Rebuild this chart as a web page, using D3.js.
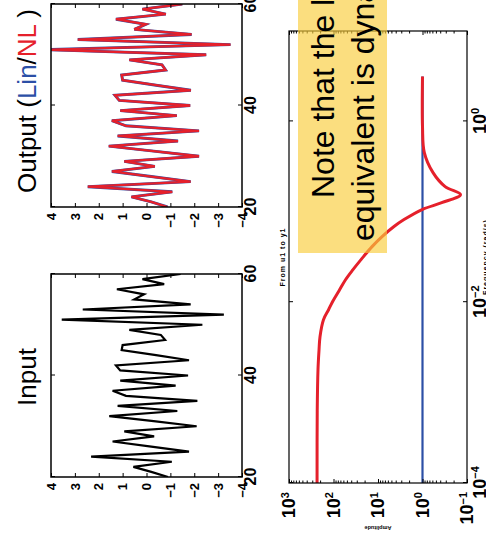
<!DOCTYPE html>
<html>
<head>
<meta charset="utf-8">
<script src="https://cdn.jsdelivr.net/npm/d3@7"></script>
<style>
  html, body { margin: 0; padding: 0; background: #fff; overflow: hidden; }
  svg { display: block; font-family: 'Liberation Sans', Arial, Helvetica, sans-serif; }
</style>
</head>
<body>
<div id="chart"></div>
<script>
// ---- time series panels (Input / Output) ----
const sampleIndex = [20, 21, 22, 23, 24, 25, 26, 27, 28, 29, 30, 31, 32, 33, 34, 35, 36, 37, 38, 39, 40,
                     41, 42, 43, 44, 45, 46, 47, 48, 49, 50, 51, 52, 53, 54, 55, 56, 57, 58, 59, 60];
const inputValues = [-0.90, -0.20, 0.55, -1.06, 2.32, -1.78, -0.20, 1.42, -0.32, 0.93, -2.10, -0.30, 1.56, -1.29,
                     1.21, -2.13, 0.86, 1.42, -1.22, 1.10, -1.74, 1.10, 1.28, -1.78, -0.40, 1.04, 1.00, -0.78,
                     -0.60, 0.72, -2.34, 3.55, -3.24, 2.67, -1.85, 0.51, 0.10, 1.24, -0.74, 0.17, -1.43];
const outputValues = [-0.88, -0.20, 0.63, -1.08, 2.46, -1.85, -0.20, 1.45, -0.35, 0.93, -2.20, -0.30, 1.58, -1.32,
                      1.21, -2.20, 0.86, 1.45, -1.27, 1.10, -1.83, 1.14, 1.32, -1.86, -0.40, 1.00, 1.04, -0.80,
                      -0.65, 0.72, -2.50, 4.20, -3.52, 2.88, -1.89, 0.51, 0.03, 1.28, -0.81, 0.17, -1.50];
const timeTicks = [20, 40, 60];
const valueTicks = [-4, -3, -2, -1, 0, 1, 2, 3, 4];

// ---- frequency response panel ----
const freqNL = [1e-4, 6.3e-4, 1.8e-3, 2.9e-3, 4.15e-3, 6.4e-3, 8.26e-3, 9.87e-3, 0.0134, 0.0177, 0.0229,
                0.0296, 0.0412, 0.0532, 0.0687, 0.082, 0.106, 0.126, 0.155, 0.19, 0.271, 0.452, 0.875, 3.14];
const ampNL = [234, 232, 223, 212, 201, 168, 129, 108, 75, 53.7, 36.5,
               24.1, 13.6, 8.1, 4.37, 2.6, 1.02, 0.37, 0.14, 0.31, 0.58, 0.91, 1.0, 1.0];
const freqLin = [1e-4, 3.14];
const ampLin = [1, 1];
const freqTicks = [1e-4, 1e-2, 1];
const ampTicks = [0.1, 1, 10, 100, 1000];

const red = '#e5202b';
const blue = '#2c4fa6';
const FONT = "'Liberation Sans', Arial, Helvetica, sans-serif";

// the figure is laid out landscape (541 x 486) and turned a quarter counter-clockwise
const W = 541;
const svg = d3.select('#chart').append('svg')
    .attr('width', 486)
    .attr('height', 541);
const fig = svg.append('g').attr('transform', `translate(0,${W}) rotate(-90)`);

function styleText(g, size, weight) {
    g.selectAll('text')
        .style('font-family', FONT)
        .style('font-size', size + 'px')
        .style('font-weight', weight)
        .attr('fill', '#000');
}

// draw one time-series panel
function drawSeries(id, left, lines) {
    const top = 51, bottom = 242, width = 203;
    const x = d3.scaleLinear().domain([20, 60]).range([left, left + width]);
    const y = d3.scaleLinear().domain([-4, 4]).range([bottom, top]);

    fig.append('clipPath').attr('id', id)
        .append('rect')
        .attr('x', left).attr('y', top)
        .attr('width', width).attr('height', bottom - top);

    const line = d3.line()
        .x((d, i) => x(sampleIndex[i]))
        .y(d => y(d));

    lines.forEach(l => {
        fig.append('path')
            .datum(l.values)
            .attr('clip-path', `url(#${id})`)
            .attr('d', line)
            .attr('fill', 'none')
            .attr('stroke', l.color)
            .attr('stroke-width', l.width)
            .attr('stroke-linejoin', 'miter');
    });

    // value axis (left, labelled) and its mirror on the right
    const yl = fig.append('g').attr('transform', `translate(${left},0)`)
        .call(d3.axisLeft(y).tickValues(valueTicks).tickSize(-4).tickPadding(6));
    styleText(yl, 13, 'bold');
    fig.append('g').attr('transform', `translate(${left + width},0)`)
        .call(d3.axisRight(y).tickValues(valueTicks).tickSize(-4).tickFormat(''));

    // time axis (bottom, labelled) and its mirror on top
    const xb = fig.append('g').attr('transform', `translate(0,${bottom})`)
        .call(d3.axisBottom(x).tickValues(timeTicks).tickSize(-4).tickPadding(3));
    styleText(xb, 16, 'bold');
    fig.append('g').attr('transform', `translate(0,${top})`)
        .call(d3.axisTop(x).tickValues(timeTicks).tickSize(-4).tickFormat(''));

    fig.selectAll('.domain').remove();
    fig.selectAll('.tick line').attr('stroke', '#000').attr('stroke-width', 1);

    fig.append('rect')
        .attr('x', left).attr('y', top)
        .attr('width', width).attr('height', bottom - top)
        .attr('fill', 'none')
        .attr('stroke', '#000')
        .attr('stroke-width', 1.5);
}

drawSeries('clipIn', 64, [{ values: inputValues, color: '#000', width: 2.2 }]);
drawSeries('clipOut', 334, [
    { values: outputValues, color: blue, width: 2.9 },
    { values: outputValues, color: red, width: 2.3 }
]);

// panel titles
fig.append('text')
    .attr('x', 164).attr('y', 36)
    .attr('text-anchor', 'middle')
    .style('font-family', FONT).style('font-size', '26px')
    .text('Input');

const outTitle = fig.append('text')
    .attr('x', 440).attr('y', 36)
    .attr('text-anchor', 'middle')
    .style('font-family', FONT).style('font-size', '26px');
outTitle.append('tspan').text('Output (');
outTitle.append('tspan').attr('fill', blue).text('Lin');
outTitle.append('tspan').text('/');
outTitle.append('tspan').attr('fill', red).text('NL');
outTitle.append('tspan').text(' )');

// ---- frequency response ----
const bL = 58, bR = 510, bT = 289, bB = 467;
const fx = d3.scaleLog().domain([1e-4, 1e1]).range([bL, bR]);
const fy = d3.scaleLog().domain([0.1, 1000]).range([bB, bT]);

const bode = d3.line()
    .x(d => fx(d[0]))
    .y(d => fy(d[1]))
    .curve(d3.curveCatmullRom.alpha(0.5));

fig.append('path')
    .datum(freqLin.map((f, i) => [f, ampLin[i]]))
    .attr('d', bode)
    .attr('fill', 'none')
    .attr('stroke', blue)
    .attr('stroke-width', 2.2);

fig.append('path')
    .datum(freqNL.map((f, i) => [f, ampNL[i]]))
    .attr('d', bode)
    .attr('fill', 'none')
    .attr('stroke', red)
    .attr('stroke-width', 3);

function superscriptLabels(g) {
    g.selectAll('.tick text').text(null).each(function(d) {
        const t = d3.select(this);
        const p = Math.round(Math.log10(d));
        t.append('tspan').text('10');
        t.append('tspan')
            .attr('dy', '-0.6em')
            .style('font-size', '11px')
            .text(p < 0 ? '\u2212' + (-p) : String(p));
    });
}

const minorAmp = fy.ticks().filter(v => !ampTicks.includes(v));

const al = fig.append('g').attr('transform', `translate(${bL},0)`)
    .call(d3.axisLeft(fy).tickValues(ampTicks).tickSize(-4).tickPadding(9));
styleText(al, 18, 'bold');
superscriptLabels(al);
fig.append('g').attr('transform', `translate(${bL},0)`)
    .call(d3.axisLeft(fy).tickValues(minorAmp).tickSize(-2.5).tickFormat(''));
fig.append('g').attr('transform', `translate(${bR},0)`)
    .call(d3.axisRight(fy).tickValues(ampTicks).tickSize(-4).tickFormat(''));
fig.append('g').attr('transform', `translate(${bR},0)`)
    .call(d3.axisRight(fy).tickValues(minorAmp).tickSize(-2.5).tickFormat(''));

const fb = fig.append('g').attr('transform', `translate(0,${bB})`)
    .call(d3.axisBottom(fx).tickValues(freqTicks).tickSize(-4).tickPadding(6));
styleText(fb, 18, 'bold');
superscriptLabels(fb);
fig.append('g').attr('transform', `translate(0,${bT})`)
    .call(d3.axisTop(fx).tickValues(freqTicks).tickSize(-4).tickFormat(''));

fig.selectAll('.domain').remove();
fig.selectAll('.tick line').attr('stroke', '#000').attr('stroke-width', 1);

fig.append('rect')
    .attr('x', bL).attr('y', bT)
    .attr('width', bR - bL).attr('height', bB - bT)
    .attr('fill', 'none')
    .attr('stroke', '#000')
    .attr('stroke-width', 1.2);

// tiny axis annotations
fig.append('text')
    .attr('x', 284).attr('y', 285)
    .attr('text-anchor', 'middle')
    .style('font-family', FONT).style('font-size', '7px').style('font-weight', 'bold')
    .style('letter-spacing', '1px')
    .text('From u1 to y1');

fig.append('text')
    .attr('x', 284).attr('y', 488)
    .attr('text-anchor', 'middle')
    .style('font-family', FONT).style('font-size', '7px').style('font-weight', 'bold')
    .style('letter-spacing', '1px')
    .text('Frequency (rad/s)');

fig.append('text')
    .attr('transform', 'translate(15,378) rotate(-90)')
    .attr('text-anchor', 'middle')
    .style('font-family', FONT).style('font-size', '5.5px').style('font-weight', 'bold')
    .text('Amplitude');

// highlighted note
fig.append('rect')
    .attr('x', 288).attr('y', 298)
    .attr('width', 270).attr('height', 89)
    .attr('fill', '#f9cd3a')
    .attr('opacity', 0.65);

fig.append('text')
    .attr('x', 343).attr('y', 334)
    .style('font-family', FONT).style('font-size', '32px')
    .text('Note that the linear');
fig.append('text')
    .attr('x', 300).attr('y', 374)
    .style('font-family', FONT).style('font-size', '32px')
    .text('equivalent is dynamic');
</script>
</body>
</html>
